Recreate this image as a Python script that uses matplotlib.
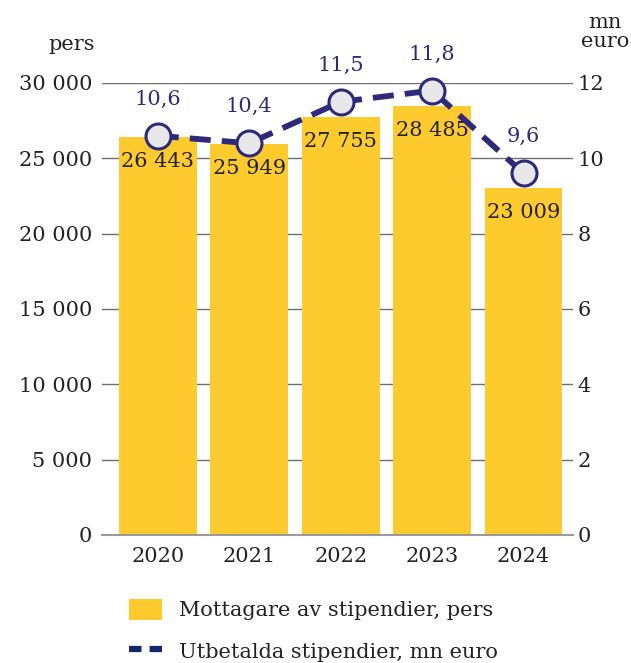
import numpy as np
import matplotlib.pyplot as plt
from matplotlib.patches import Patch
from matplotlib.lines import Line2D

# Data
years = ['2020', '2021', '2022', '2023', '2024']
mottagare = [26443, 25949, 27755, 28485, 23009]
utbetalda = [10.6, 10.4, 11.5, 11.8, 9.6]
left_ticks = [0, 5000, 10000, 15000, 20000, 25000, 30000]
right_ticks = [0, 2, 4, 6, 8, 10, 12]

yellow = '#FECB2F'
navy = '#2D2A7B'
legend_navy = '#10296B'
txt = '#222222'
fs = 15

plt.rcParams['font.family'] = ['DejaVu Serif']

fig = plt.figure(figsize=(6.31, 6.63), dpi=100)
W, H = 631, 663
ax = fig.add_axes([102 / W, 1 - 535 / H, (573 - 102) / W, (535 - 83) / H])
ax2 = ax.twinx()

x = np.arange(len(years))
ax.bar(x, mottagare, width=0.85, color=yellow, zorder=2)
ax.set_xlim(-0.61, 4.54)
ax.set_ylim(0, 30000)
ax.set_yticks(left_ticks)
ax.set_yticklabels([f'{v:,}'.replace(',', ' ') for v in left_ticks])
ax.set_xticks(x)
ax.set_xticklabels(years)
ax.yaxis.grid(True, color='#6e6e6e', linewidth=1.0, zorder=0)
ax.set_axisbelow(True)
for s in ['top', 'left', 'right']:
    ax.spines[s].set_visible(False)
ax.spines['bottom'].set_color('#9a9a9a')
ax.spines['bottom'].set_linewidth(1.5)
ax.tick_params(axis='both', length=0, labelsize=fs, colors=txt)
ax.tick_params(axis='y', pad=7)
ax.tick_params(axis='x', pad=9)

for xi, v in zip(x, mottagare):
    ax.text(xi, v - 1000, f'{v:,}'.replace(',', ' '), ha='center', va='top',
            fontsize=fs, color=txt, zorder=3)

ax2.set_ylim(0, 12)
ax2.set_yticks(right_ticks)
ax2.tick_params(axis='y', length=0, labelsize=fs, colors=txt, pad=3)
for s in ax2.spines.values():
    s.set_visible(False)
ax2.plot(x, utbetalda, color=navy, linewidth=4.2, dashes=(3.6, 1.9),
         marker='o', markersize=18, markerfacecolor='#E8E8EA',
         markeredgecolor=navy, markeredgewidth=2.2, zorder=4, clip_on=False)
for xi, v in zip(x, utbetalda):
    ax2.text(xi, v + 0.72, f'{v}'.replace('.', ','), ha='center', va='bottom',
             fontsize=fs, color=navy, zorder=5,
             bbox=dict(facecolor='white', edgecolor='none', pad=1.5))

fig.text(95 / W, 1 - 45 / H, 'pers', ha='right', va='center', fontsize=fs, color=txt)
fig.text(605 / W, 1 - 32 / H, 'mn\neuro', ha='center', va='center', fontsize=fs,
         color=txt, linespacing=1.0)

handles = [Patch(facecolor=yellow, edgecolor='none'),
           Line2D([0], [0], color=legend_navy, linewidth=4.5, dashes=(2.0, 1.3))]
labels = ['Mottagare av stipendier, pers', 'Utbetalda stipendier, mn euro']
fig.legend(handles, labels, loc='upper left', bbox_to_anchor=(110 / W, 1 - 580 / H),
           frameon=False, fontsize=fs, handlelength=1.6, handleheight=1.2,
           handletextpad=0.8, labelspacing=0.95, labelcolor=txt)

fig.savefig('out.png', dpi=100)
